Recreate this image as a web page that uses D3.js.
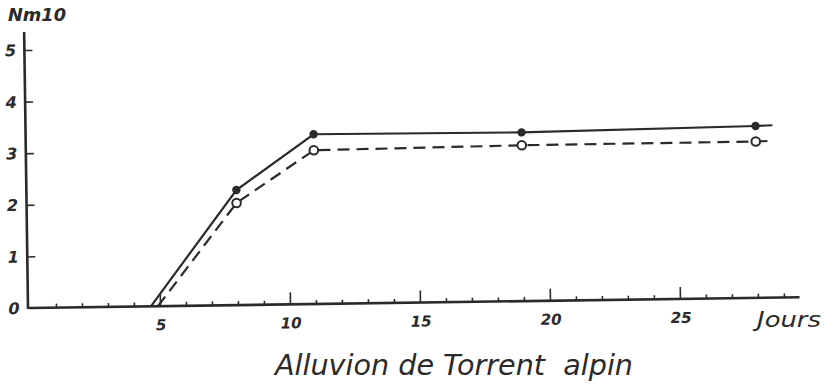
<!DOCTYPE html>
<html>
<head>
<meta charset="utf-8">
<script src="https://cdn.jsdelivr.net/npm/d3@7"></script>
<style>
  html, body { margin: 0; padding: 0; background: #ffffff; }
  svg { display: block; }
  text { font-family: "DejaVu Sans", sans-serif; font-style: italic; fill: #2a2a2a; white-space: pre; }
</style>
</head>
<body>
<svg id="chart" width="838" height="387"></svg>
<script>
// Days on the horizontal axis, Nm10 on the vertical axis
const solidDays    = [4.65, 8, 11, 19, 28, 28.65];
const solidValues  = [0, 2.23, 3.29, 3.27, 3.33, 3.34];
const dashedDays   = [4.92, 8, 11, 19, 28, 28.7];
const dashedValues = [0, 1.98, 2.98, 3.02, 3.03, 3.04];
const markerDays   = [8, 11, 19, 28];

const xTickLabels = [5, 10, 15, 20, 25];
const yTickLabels = [0, 1, 2, 3, 4, 5];

const ink = "#2a2a2a";
const svg = d3.select("#chart");

const x = d3.scaleLinear().domain([0, 30]).range([30, 810]);
const y = d3.scaleLinear().domain([0, 5]).range([308, 50]);

// the whole drawing sits slightly tilted on the sheet
const g = svg.append("g").attr("transform", `rotate(-0.8, ${x(0)}, ${y(0)})`);

// x axis: a tick for every day, longer ticks every five days
const xAxis = d3.axisBottom(x)
  .tickValues(d3.range(1, 30))
  .tickSizeOuter(0)
  .tickFormat("");
const gx = g.append("g").attr("transform", `translate(0,${y(0)})`).call(xAxis);
gx.select(".domain").remove();
gx.selectAll(".tick line")
  .attr("y1", 0)
  .attr("y2", d => xTickLabels.includes(d) ? -12 : -4)
  .attr("stroke", ink).attr("stroke-width", 1.6);
g.append("line")
  .attr("x1", x(0) - 1).attr("x2", x(29.6))
  .attr("y1", y(0)).attr("y2", y(0))
  .attr("stroke", ink).attr("stroke-width", 2.6);

g.selectAll(".xlab").data(xTickLabels).join("text")
  .attr("class", "xlab")
  .attr("x", d => x(d) + 1).attr("y", y(0) + 24)
  .attr("text-anchor", "middle")
  .attr("font-size", 15).attr("font-weight", "bold")
  .text(d => d);

// y axis
const yAxis = d3.axisRight(y).tickValues(yTickLabels.slice(1)).tickSizeOuter(0).tickSize(8).tickFormat("");
const gy = g.append("g").attr("transform", `translate(${x(0) - 2},0)`).call(yAxis);
gy.select(".domain").remove();
gy.selectAll(".tick line").attr("stroke", ink).attr("stroke-width", 1.6);
g.append("line")
  .attr("x1", x(0) - 2).attr("x2", x(0) - 2)
  .attr("y1", y(0) + 1).attr("y2", y(5.35))
  .attr("stroke", ink).attr("stroke-width", 2.6);

g.selectAll(".ylab").data(yTickLabels).join("text")
  .attr("class", "ylab")
  .attr("x", 14).attr("y", d => y(d) + 6)
  .attr("text-anchor", "middle")
  .attr("font-size", 16).attr("font-weight", "bold")
  .text(d => d);

svg.append("text")
  .attr("x", 8).attr("y", 21)
  .attr("font-size", 18).attr("font-weight", "bold")
  .attr("textLength", 58).attr("lengthAdjust", "spacingAndGlyphs")
  .text("Nm10");

svg.append("text")
  .attr("x", 757).attr("y", 327)
  .attr("font-size", 21)
  .attr("textLength", 64).attr("lengthAdjust", "spacingAndGlyphs")
  .text("Jours");

// the two series
const line = d3.line().x(d => x(d[0])).y(d => y(d[1]));
const solidPts  = solidDays.map((d, i) => [d, solidValues[i]]);
const dashedPts = dashedDays.map((d, i) => [d, dashedValues[i]]);

g.append("path").datum(solidPts)
  .attr("d", line).attr("fill", "none")
  .attr("stroke", ink).attr("stroke-width", 2.2);
g.append("path").datum(dashedPts)
  .attr("d", line).attr("fill", "none")
  .attr("stroke", ink).attr("stroke-width", 2.2)
  .attr("stroke-dasharray", "12,7");

g.selectAll(".dot").data(solidPts.filter(p => markerDays.includes(p[0]))).join("circle")
  .attr("class", "dot")
  .attr("cx", d => x(d[0])).attr("cy", d => y(d[1]))
  .attr("r", 4.2).attr("fill", ink);
g.selectAll(".ring").data(dashedPts.filter(p => markerDays.includes(p[0]))).join("circle")
  .attr("class", "ring")
  .attr("cx", d => x(d[0])).attr("cy", d => y(d[1]))
  .attr("r", 4.3).attr("fill", "#ffffff")
  .attr("stroke", ink).attr("stroke-width", 2);

// caption
svg.append("text")
  .attr("x", 275).attr("y", 375)
  .attr("font-size", 28)
  .attr("textLength", 358).attr("lengthAdjust", "spacingAndGlyphs")
  .text("Alluvion de Torrent  alpin");
</script>
</body>
</html>
